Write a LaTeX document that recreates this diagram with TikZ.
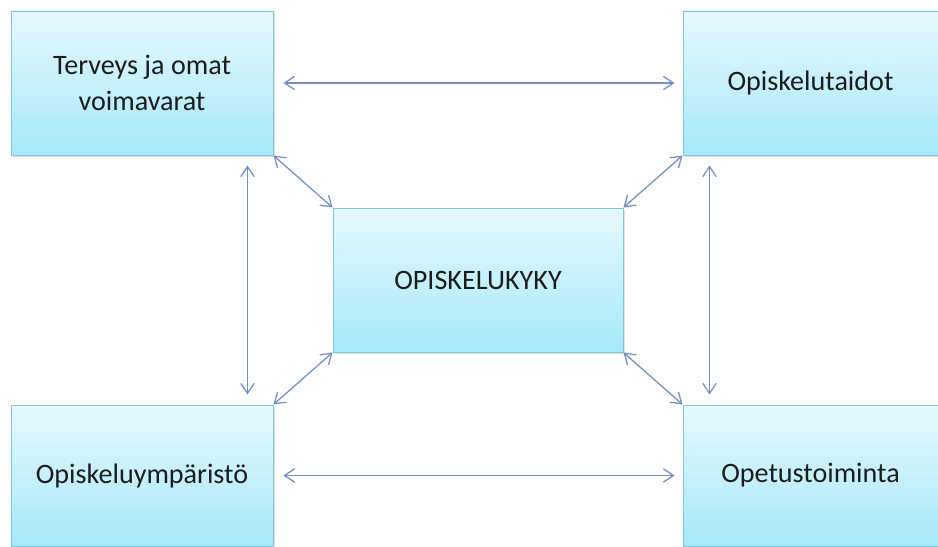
\documentclass[tikz,border=0pt]{standalone}
\usepackage{fontspec}
\setmainfont{Carlito}
\usetikzlibrary{arrows.meta,shadows}

\definecolor{boxtop}{HTML}{E6F9FD}
\definecolor{boxbottom}{HTML}{A6E8F9}
\definecolor{boxline}{HTML}{80C6D8}
\definecolor{arrowblue}{HTML}{7490C2}
\definecolor{textdark}{HTML}{1C1C1C}

\begin{document}
\begin{tikzpicture}[x=0.3mm,y=-0.3mm]
        \useasboundingbox (0,0) rectangle (938,546);
        \begin{scope}[every node/.style={draw=boxline,line width=0.8pt,top color=boxtop,bottom color=boxbottom,
            drop shadow={shadow xshift=0.5mm,shadow yshift=-0.6mm,opacity=0.25},
            align=center,text=textdark,font=\fontsize{24}{31}\selectfont,inner sep=0pt}]
            \node[minimum width=78.6mm,minimum height=43.2mm] (terveys) at (142,83) {Terveys ja omat\\voimavarat};
            \node[minimum width=76.5mm,minimum height=43.2mm] (taidot) at (810.5,83) {Opiskelutaidot};
            \node[minimum width=87mm,minimum height=43.2mm] (kyky) at (478,280) {OPISKELUKYKY};
            \node[minimum width=78.6mm,minimum height=42.3mm] (ymparisto) at (142,475.5) {Opiskeluympäristö};
            \node[minimum width=76.5mm,minimum height=42.3mm] (opetus) at (810.5,475.5) {Opetustoiminta};
        \end{scope}
        \begin{scope}[every edge/.style={draw,arrowblue,line width=1.1pt,{Straight Barb[length=3mm,width=4mm]}-{Straight Barb[length=3mm,width=4mm]}}]
            \path (terveys) edge[shorten <=3mm,shorten >=2.4mm] (taidot);
            \path (ymparisto) edge[shorten <=3mm,shorten >=2.4mm] (opetus);

            \path ([xshift=-7.8mm]terveys.south east) edge[shorten <=3mm,shorten >=3mm] ([xshift=-7.8mm]ymparisto.north east);
            \path ([xshift=8.1mm]taidot.south west) edge[shorten <=3mm,shorten >=3mm] ([xshift=8.1mm]opetus.north west);

            \path (terveys.south east) edge (kyky.north west);
            \path (kyky.north east) edge (taidot.south west);
            \path (kyky.south west) edge (ymparisto.north east);
            \path (kyky.south east) edge (opetus.north west);
        \end{scope}
    \end{tikzpicture}
\end{document}
